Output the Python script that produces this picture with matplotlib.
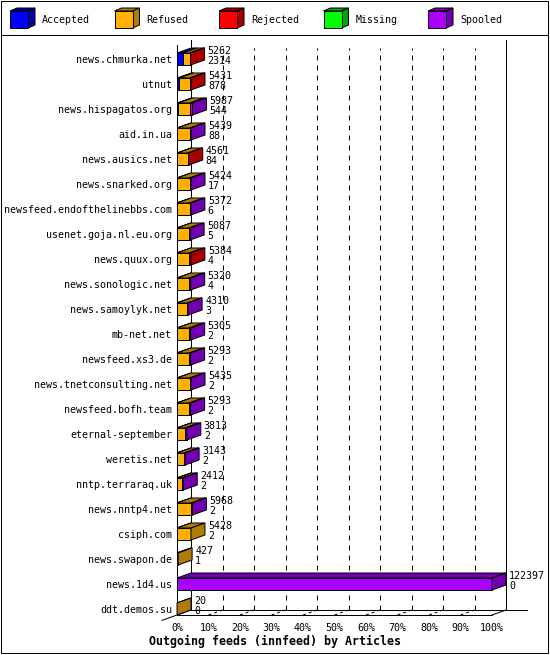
import matplotlib
matplotlib.use("Agg")
import matplotlib.pyplot as plt
from matplotlib.patches import Polygon, Rectangle

plt.rcParams['font.family'] = ['DejaVu Sans Mono']

# --- data ---
feeds = ["news.chmurka.net", "utnut", "news.hispagatos.org", "aid.in.ua",
         "news.ausics.net", "news.snarked.org", "newsfeed.endofthelinebbs.com",
         "usenet.goja.nl.eu.org", "news.quux.org", "news.sonologic.net",
         "news.samoylyk.net", "mb-net.net", "newsfeed.xs3.de",
         "news.tnetconsulting.net", "newsfeed.bofh.team", "eternal-september",
         "weretis.net", "nntp.terraraq.uk", "news.nntp4.net", "csiph.com",
         "news.swapon.de", "news.1d4.us", "ddt.demos.su"]
offered = [5262, 5431, 5987, 5439, 4561, 5424, 5372, 5087, 5384, 5320, 4310,
           5305, 5293, 5435, 5293, 3813, 3143, 2412, 5968, 5428, 427, 122397, 20]
accepted = [2314, 878, 544, 88, 84, 17, 6, 5, 4, 4, 3, 2, 2, 2, 2, 2, 2, 2, 2, 2,
            1, 0, 0]
refused = [2620, 4057, 4500, 4960, 4100, 4900, 4900, 4700, 4700, 4700, 4000,
           4700, 4700, 4900, 4700, 3000, 2720, 1830, 5440, 5426, 426, 0, 20]
rejected = [328, 496, 0, 0, 377, 0, 0, 0, 680, 0, 0, 0, 0, 0, 0, 0, 0, 0, 0, 0,
            0, 0, 0]
missing = [0] * 23
spooled = [0, 0, 943, 391, 0, 507, 466, 382, 0, 616, 307, 603, 591, 533, 591,
           811, 421, 580, 526, 0, 0, 122397, 0]

series_names = ["Accepted", "Refused", "Rejected", "Missing", "Spooled"]
series = [accepted, refused, rejected, missing, spooled]
front_cols = ["#0000ff", "#ffb000", "#ff0000", "#00ff00", "#aa00ff"]
dark_cols = ["#0000a8", "#b07c08", "#aa0000", "#00a800", "#7200b0"]

xmax = max(offered)
ticklabels = ["%d%%" % (k * 10) for k in range(11)]

W, H = 550, 655
fig = plt.figure(figsize=(W / 100, H / 100), dpi=100)
LW = 0.72  # 1 pixel

# overlay in pixel coords for frame + legend
ov = fig.add_axes([0, 0, 1, 1], zorder=0)
ov.set_xlim(0, W)
ov.set_ylim(H, 0)
ov.axis("off")
ov.add_patch(Rectangle((1, 1), 547, 652, fill=False, ec="black", lw=LW))
ov.plot([1, 548], [35, 35], color="black", lw=LW)
for j, name in enumerate(series_names):
    x0 = 10 + 104.5 * j
    ov.add_patch(Polygon([(x0, 11), (x0 + 18, 11), (x0 + 25, 8), (x0 + 7, 8)],
                         fc=dark_cols[j], ec="black", lw=LW))
    ov.add_patch(Polygon([(x0 + 18, 11), (x0 + 18, 28), (x0 + 25, 25), (x0 + 25, 8)],
                         fc=dark_cols[j], ec="black", lw=LW))
    ov.add_patch(Rectangle((x0, 11), 18, 17, fc=front_cols[j], ec="black", lw=LW))
    ov.text(x0 + 32, 20, name, fontsize=7.2, va="center", ha="left")

# main plot: rows 25 px apart, 315 px for 0..100%
ax = fig.add_axes([177 / W, (H - 615) / H, 315 / W, 570 / H], zorder=1)
ax.patch.set_alpha(0)
ax.set_xlim(0, xmax)
ax.set_ylim(22.24, -0.56)
for s in ax.spines.values():
    s.set_visible(False)

px = xmax / 315.0       # one pixel in x data units
DX = 14 * px
DY = -5 / 25.0
yf = 22.24               # front floor
yb = yf + DY             # back floor

# walls
ax.plot([0, 0], [yf, -0.56], color="black", lw=LW, clip_on=False)
ax.plot([DX, DX], [yb, -0.56 + DY], color="black", lw=LW, clip_on=False)
ax.plot([xmax + DX, xmax + DX], [yb, -0.56 + DY], color="black", lw=LW, clip_on=False)
ax.plot([0, xmax], [yf, yf], color="black", lw=LW, clip_on=False)
ax.plot([DX, xmax + DX + 21 * px], [yb, yb], color="black", lw=LW, clip_on=False)
ax.plot([-15 * px, DX], [yf - DY * 15 / 14, yb], color="black", lw=LW, clip_on=False)
ax.plot([xmax, xmax + DX], [yf, yb], color="black", lw=LW, clip_on=False)

# grid
for k in range(1, 10):
    xk = xmax * k / 10
    ax.plot([xk + DX, xk + DX], [yb, -0.44], color="black", lw=LW,
            ls=(0, (5, 5)), clip_on=False, zorder=1)
    ax.plot([xk, xk + DX], [yf, yb], color="black", lw=LW,
            ls=(0, (3, 3)), clip_on=False, zorder=1)

# bars
bh = 0.48
for i in range(len(feeds)):
    vals = [s[i] for s in series]
    last = max(j for j, v in enumerate(vals) if v > 0)
    left = 0
    yt = i - bh / 2
    for j, v in enumerate(vals):
        if v <= 0:
            continue
        ax.barh(i, v, left=left, height=bh, color=front_cols[j], ec="black",
                lw=LW, zorder=3, clip_on=False)
        ax.add_patch(Polygon([(left, yt), (left + v, yt), (left + v + DX, yt + DY),
                              (left + DX, yt + DY)], fc=dark_cols[j], ec="black",
                             lw=LW, zorder=3, clip_on=False))
        if j == last:
            xe = left + v
            ax.add_patch(Polygon([(xe, yt), (xe, yt + bh), (xe + DX, yt + bh + DY),
                                  (xe + DX, yt + DY)], fc=dark_cols[j], ec="black",
                                 lw=LW, zorder=3, clip_on=False))
        left += v
    xt = offered[i] + DX + 3 * px
    ax.text(xt, i - 0.32, str(offered[i]), fontsize=7.2, va="center", ha="left",
            zorder=4, clip_on=False)
    ax.text(xt, i + 0.08, str(accepted[i]), fontsize=7.2, va="center", ha="left",
            zorder=4, clip_on=False)

ax.set_yticks(range(len(feeds)), feeds, fontsize=7.2)
ax.set_xticks([xmax * k / 10 for k in range(11)], ticklabels, fontsize=7.2)
ax.tick_params(axis="y", length=0, pad=3.6)
ax.tick_params(axis="x", length=0, pad=6.0)

fig.text(0.5, 1 - 641 / H, "Outgoing feeds (innfeed) by Articles",
         fontsize=8.4, fontweight="bold", ha="center", va="center")

fig.savefig("out.png", dpi=100)
